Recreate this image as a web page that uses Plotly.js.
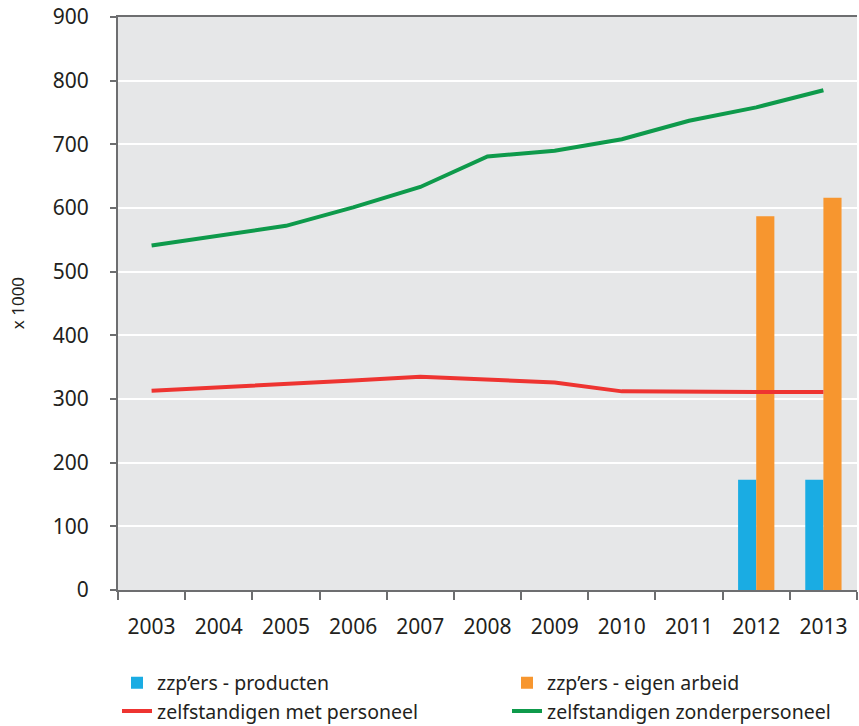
<!DOCTYPE html>
<html>
<head>
<meta charset="utf-8">
<script src="https://cdn.plot.ly/plotly-3.0.1.min.js"></script>
<style>html,body{margin:0;padding:0;background:#fff;}#chart{width:859px;height:726px;}</style>
</head>
<body>
<div id="chart"></div>
<script>
const years = ['2003','2004','2005','2006','2007','2008','2009','2010','2011','2012','2013'];
const barYears = ['2012','2013'];
const zzpProducten = [173, 173];
const zzpEigenArbeid = [587, 616];
const metPersoneel = [313, 318, 323, 329, 335, 331, 326, 312, 311, 311, 311];
const zonderPersoneel = [541, 556, 572, 601, 633, 681, 690, 708, 737, 758, 785];
const yTicks = [0, 100, 200, 300, 400, 500, 600, 700, 800, 900];
const yTitle = 'x 1000';

const cBlue = '#1aace3', cOrange = '#f7962f', cRed = '#ee3431', cGreen = '#0e9a4b';
const font = 'Noto Sans, Open Sans, sans-serif';

const traces = [
  {type:'bar', name:'zzp’ers - producten', x: barYears, y: zzpProducten, marker:{color:cBlue}, legend:'legend'},
  {type:'bar', name:'zzp’ers - eigen arbeid', x: barYears, y: zzpEigenArbeid, marker:{color:cOrange}, legend:'legend2'},
  {type:'scatter', mode:'lines', name:'zelfstandigen met personeel', x: years, y: metPersoneel, legend:'legend',
   line:{color:cRed, width:4}},
  {type:'scatter', mode:'lines', name:'zelfstandigen zonderpersoneel', x: years, y: zonderPersoneel, legend:'legend2',
   line:{color:cGreen, width:4}}
];

const legendCommon = {
  orientation:'v', xref:'container', yref:'container', xanchor:'left', yanchor:'top',
  y: 0.086, font:{size:19.5}, itemwidth:30, bgcolor:'rgba(0,0,0,0)', traceorder:'normal', tracegroupgap:0
};

const layout = {
  width: 859, height: 726,
  margin: {l:118, r:2, t:17, b:136, autoexpand:false},
  paper_bgcolor:'#ffffff', plot_bgcolor:'#e6e7e8',
  font:{family: font, size:18, color:'#231f20'},
  barmode:'group', bargap:0.46, bargroupgap:0,
  showlegend:true,
  xaxis:{
    type:'category', categoryorder:'array', categoryarray: years,
    range:[-0.5, 10.5], tickson:'boundaries', tickangle:0,
    showline:true, linecolor:'#6d6e70', linewidth:2, mirror:true,
    ticks:'outside', ticklen:8, tickwidth:2, tickcolor:'#6d6e70',
    showgrid:false, zeroline:false, ticklabelstandoff:17,
    tickfont:{size:21}
  },
  yaxis:{
    range:[0, 900], tickvals: yTicks, ticktext: yTicks.map(String),
    showline:true, linecolor:'#6d6e70', linewidth:2,
    ticks:'outside', ticklen:6, tickwidth:2, tickcolor:'#6d6e70',
    showgrid:true, gridcolor:'#ffffff', gridwidth:2, zeroline:false,
    ticklabelstandoff:17, tickfont:{size:21}
  },
  annotations:[{
    text: yTitle, textangle:-90, xref:'paper', yref:'paper',
    x: -100/737, y: 0.5, xanchor:'center', yanchor:'middle', showarrow:false,
    font:{size:17, color:'#231f20'}
  }],
  legend: Object.assign({}, legendCommon, {x: 117/859}),
  legend2: Object.assign({}, legendCommon, {x: 507/859})
};

Plotly.newPlot('chart', traces, layout, {displayModeBar:false, staticPlot:true});
</script>
</body>
</html>
